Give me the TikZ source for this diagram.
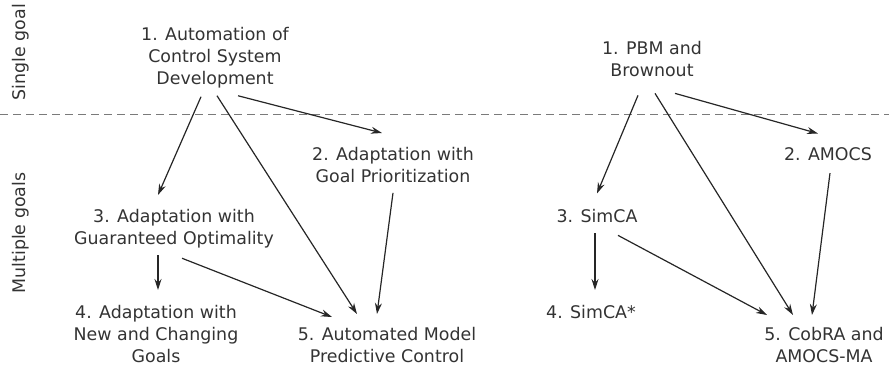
\documentclass[tikz,border=0pt]{standalone}
\usepackage{fontspec}
\setmainfont{DejaVu Sans}
\usetikzlibrary{arrows.meta}
\definecolor{inkgray}{HTML}{333333}
\definecolor{dashgray}{HTML}{7A7A7A}
\tikzset{
  topic/.style={anchor=north, align=center, inner sep=0pt, text=inkgray,
    font=\fontsize{17.4}{22}\selectfont},
  band/.style={rotate=90, inner sep=0pt, text=inkgray,
    font=\fontsize{17.4}{22}\selectfont},
  link/.style={-{Stealth[length=11pt,width=7pt]}, line width=1.2pt, draw=black!85},
}
\begin{document}
\begin{tikzpicture}[x=1pt,y=-1pt]
  \useasboundingbox (0,0) rectangle (889,368);
  % goal bands
  \node[band] (single) at (21,52) {Single goal};
  \node[band] (multi) at (21,233) {Multiple goals};
  \coordinate (cutl) at (0,114);
  \coordinate (cutr) at (889,114);
  \draw[dashgray, line width=1pt, dash pattern=on 8pt off 5pt] (cutl) -- (cutr);
  % left family
  \node[topic] (l1) at (215,27.5) {1. Automation of\\Control System\\Development};
  \node[topic] (l2) at (393,147) {2. Adaptation with\\Goal Prioritization};
  \node[topic] (l3) at (174,209) {3. Adaptation with\\Guaranteed Optimality};
  \node[topic] (l4) at (156,305) {4. Adaptation with\\New and Changing\\Goals};
  \node[topic] (l5) at (387,327) {5. Automated Model\\Predictive Control};
  % right family
  \node[topic] (r1) at (652,41.5) {1. PBM and\\Brownout};
  \node[topic] (r2) at (828,147.5) {2. AMOCS};
  \node[topic] (r3) at (597,209.5) {3. SimCA};
  \node[topic] (r4) at (591,305) {4. SimCA*};
  \node[topic] (r5) at (824,327) {5. CobRA and\\AMOCS-MA};
  % left links
  \draw[link] ([shift={(-14,8)}]l1.south) -- ([shift={(-16,-14)}]l3.north);
  \draw[link] ([shift={(2,7)}]l1.south) -- ([shift={(-30,-13)}]l5.north);
  \draw[link] ([shift={(23,7)}]l1.south) -- ([shift={(-11,-14)}]l2.north);
  \draw[link] ([shift={(0,10)}]l2.south) -- ([shift={(-10,-13)}]l5.north);
  \draw[link] ([shift={(-16,7)}]l3.south) -- ([shift={(2,-15)}]l4.north);
  \draw[link] ([shift={(8,10)}]l3.south) -- ([shift={(-55,-10)}]l5.north);
  % right links
  \draw[link] ([shift={(-14,18)}]r1.south) -- ([shift={(0,-16)}]r3.north);
  \draw[link] ([shift={(3,16)}]r1.south) -- ([shift={(-31,-12)}]r5.north);
  \draw[link] ([shift={(23,16)}]r1.south) -- ([shift={(-10,-14)}]r2.north);
  \draw[link] ([shift={(2,12)}]r2.south) -- ([shift={(-12,-12)}]r5.north);
  \draw[link] ([shift={(-2,10)}]r3.south) -- ([shift={(4,-15)}]r4.north);
  \draw[link] ([shift={(21,12)}]r3.south) -- ([shift={(-57,-12)}]r5.north);
\end{tikzpicture}
\end{document}
